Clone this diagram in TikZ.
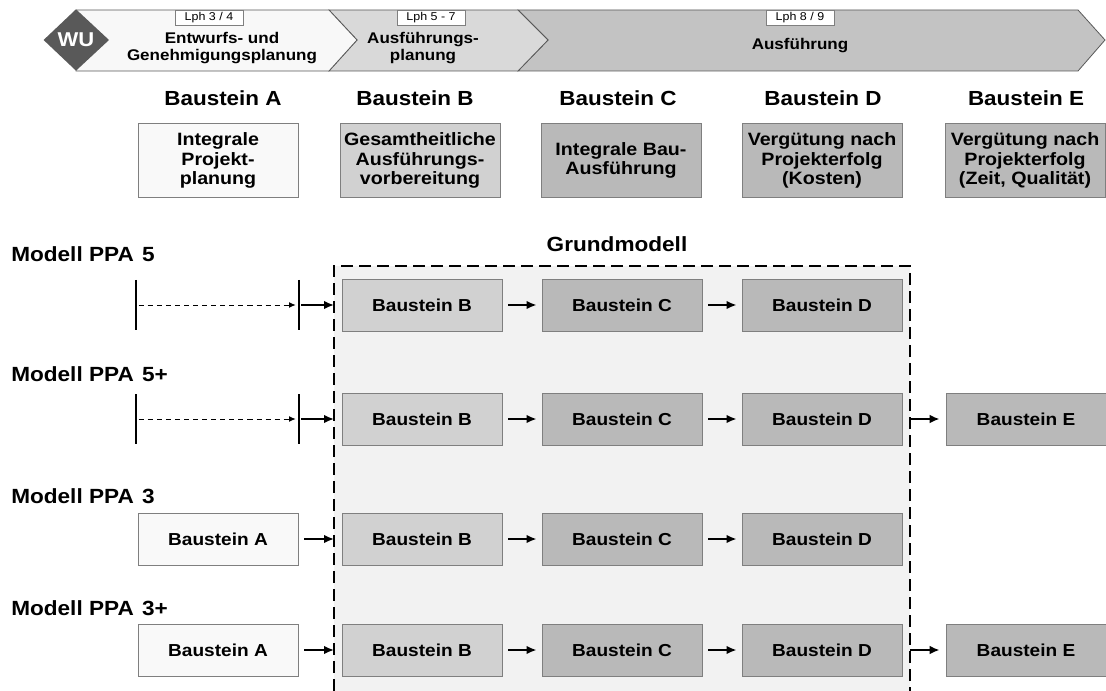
\documentclass[tikz,border=0pt]{standalone}
\usepackage{fontspec}
\setmainfont{Liberation Sans}[FakeStretch=1.1]
\usepackage{tikz}
\usetikzlibrary{arrows.meta, positioning, calc}
\definecolor{wuGrey}{HTML}{595959}
\definecolor{lineGrey}{HTML}{7F7F7F}
\definecolor{phaseA}{HTML}{F8F8F8}
\definecolor{phaseB}{HTML}{D9D9D9}
\definecolor{phaseC}{HTML}{C3C3C3}
\definecolor{boxA}{HTML}{F9F9F9}
\definecolor{boxB}{HTML}{D1D1D1}
\definecolor{boxC}{HTML}{B9B9B9}
\definecolor{frameFill}{HTML}{F2F2F2}
\tikzstyle{phase}=[draw=wuGrey, line width=0.6pt]
\tikzstyle{lph}=[draw=lineGrey, fill=white, minimum width=51pt, minimum height=11pt,
  inner sep=0pt, font=\fontsize{8.5}{9}\selectfont]
\tikzstyle{phaseText}=[align=center, font=\bfseries\fontsize{11.6}{12.5}\selectfont]
\tikzstyle{heading}=[anchor=base, font=\bfseries\fontsize{15.3}{16}\selectfont]
\tikzstyle{modul}=[draw=lineGrey, line width=0.6pt, minimum width=120pt,
  minimum height=56pt, inner sep=0pt, align=center,
  font=\bfseries\fontsize{13.4}{14.4}\selectfont]
\tikzstyle{baustein}=[draw=lineGrey, line width=0.6pt, minimum width=120pt,
  minimum height=39pt, inner sep=0pt, font=\bfseries\fontsize{13}{14}\selectfont]
\tikzstyle{modell}=[anchor=base west, inner sep=0pt, font=\bfseries\fontsize{15.4}{16}\selectfont]
\tikzstyle{frame}=[fill=frameFill, line width=1.8pt, dash pattern=on 9pt off 4.5pt]
\tikzstyle{arrow}=[-{Latex[length=7.5pt, width=6.5pt]}, line width=1.4pt,
  shorten <=4.5pt, shorten >=3.8pt]
\tikzstyle{dashArrow}=[-{Latex[length=5pt, width=4.5pt]}, line width=0.7pt,
  dash pattern=on 3.8pt off 3pt]
\tikzstyle{bar}=[line width=2.2pt]

\begin{document}
\begin{tikzpicture}[x=0.75pt, y=-0.75pt]
  \useasboundingbox (0,0) rectangle (1106,691);

  % Leistungsphasen
  \filldraw[phase, fill=phaseC] (518,10) -- (1078,10) -- (1105,40) -- (1078,71)
    -- (518,71) -- (548,40) -- cycle;
  \filldraw[phase, fill=phaseB] (329,10) -- (518,10) -- (548,40) -- (518,71)
    -- (329,71) -- (357,40) -- cycle;
  \filldraw[phase, fill=phaseA] (76,10) -- (329,10) -- (357,40) -- (329,71)
    -- (76,71) -- cycle;
  \fill[wuGrey] (43.6,40) -- (76,9.3) -- (109,40) -- (76,70.7) -- cycle;
  \node[text=white, font=\bfseries\fontsize{15}{15}\selectfont] (wu) at (76,40) {WU};

  \node[lph] (lph1) at (209,17.5) {Lph 3 / 4};
  \node[lph] (lph2) at (431,17.5) {Lph 5 - 7};
  \node[lph] (lph3) at (800,18) {Lph 8 / 9};
  \node[phaseText] (ph1) at (222,48) {Entwurfs- und\\Genehmigungsplanung};
  \node[phaseText] (ph2) at (423,48) {Ausführungs-\\planung};
  \node[phaseText] (ph3) at (800,45.5) {Ausführung};

  % Bausteine
  \node[heading] (hA) at (223,106) {Baustein A};
  \node[heading] (hB) at (415,106) {Baustein B};
  \node[heading] (hC) at (618,106) {Baustein C};
  \node[heading] (hD) at (823,106) {Baustein D};
  \node[heading] (hE) at (1026,106) {Baustein E};

  \node[modul, fill=boxA] (mA) at (218,160.5) {Integrale\\Projekt-\\planung};
  \node[modul, fill=boxB] (mB) at (420,160.5) {Gesamtheitliche\\Ausführungs-\\vorbereitung};
  \node[modul, fill=boxC] (mC) at (621,160.5) {Integrale Bau-\\Ausführung};
  \node[modul, fill=boxC] (mD) at (822,160.5) {Vergütung nach\\Projekterfolg\\(Kosten)};
  \node[modul, fill=boxC] (mE) at (1025,160.5) {Vergütung nach\\Projekterfolg\\(Zeit, Qualität)};

  % Grundmodell
  \node[anchor=base, font=\bfseries\fontsize{15.4}{16}\selectfont] (grund) at (617,252) {Grundmodell};
  \draw[frame] (334,691) -- (334,266) -- (910,266) -- (910,691);

  \node[modell] (lab1) at (11,262) {Modell PPA\hspace{0.4em}5};
  \node[modell] (lab2) at (11,382) {Modell PPA\hspace{0.4em}5+};
  \node[modell] (lab3) at (11,503) {Modell PPA\hspace{0.4em}3};
  \node[modell] (lab4) at (11,615) {Modell PPA\hspace{0.4em}3+};

  \foreach \r/\y in {1/305, 2/419, 3/539, 4/650}{
    \coordinate (in\r) at (334,\y);
    \coordinate (out\r) at (910,\y);
    \node[baustein, fill=boxB] (b\r) at (422,\y) {Baustein B};
    \node[baustein, fill=boxC] (c\r) at (622,\y) {Baustein C};
    \node[baustein, fill=boxC] (d\r) at (822,\y) {Baustein D};
    \draw[arrow] (b\r) -- (c\r);
    \draw[arrow] (c\r) -- (d\r);
  }

  % PPA 5 / 5+
  \foreach \r in {1, 2}{
    \coordinate (barL\r) at ($(b\r)+(-286,0)$);
    \coordinate (barR\r) at ($(b\r)+(-123,0)$);
    \draw[bar] ($(barL\r)+(0,-25)$) -- ($(barL\r)+(0,25)$);
    \draw[bar] ($(barR\r)+(0,-25)$) -- ($(barR\r)+(0,25)$);
    \draw[dashArrow, shorten <=2pt, shorten >=2.5pt] (barL\r) -- (barR\r);
    \draw[arrow, shorten <=1.5pt, shorten >=0pt] (barR\r) -- (in\r);
  }

  % PPA 3 / 3+
  \node[baustein, fill=boxA] (a3) at (218,539) {Baustein A};
  \node[baustein, fill=boxA] (a4) at (218,650) {Baustein A};
  \draw[arrow, shorten >=0pt] (a3) -- (in3);
  \draw[arrow, shorten >=0pt] (a4) -- (in4);

  % Baustein E
  \node[baustein, fill=boxC] (e2) at (1026,419) {Baustein E};
  \node[baustein, fill=boxC] (e4) at (1026,650) {Baustein E};
  \draw[arrow, shorten <=0pt, shorten >=4.5pt] (out2) -- (e2);
  \draw[arrow, shorten <=0pt, shorten >=4.5pt] (out4) -- (e4);
\end{tikzpicture}
\end{document}
